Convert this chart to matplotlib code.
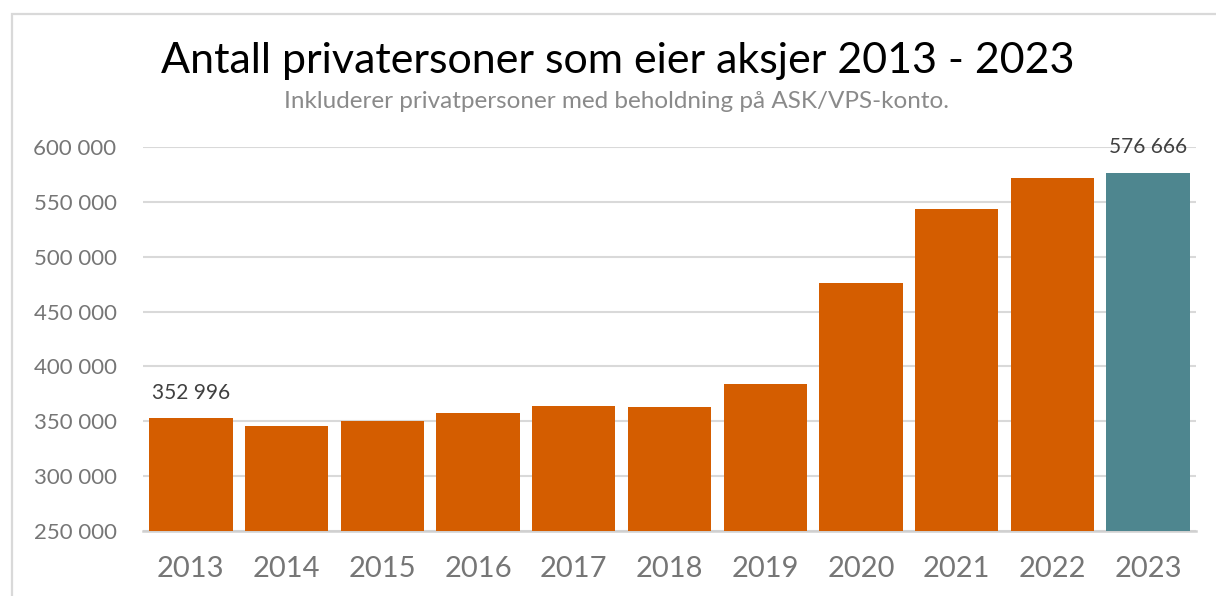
import matplotlib.pyplot as plt
from matplotlib.patches import Rectangle
from matplotlib.ticker import FuncFormatter

plt.rcParams["font.family"] = ["Lato", "DejaVu Sans"]

years = ["2013", "2014", "2015", "2016", "2017", "2018",
         "2019", "2020", "2021", "2022", "2023"]
holders = [352996, 345900, 350500, 357300, 364300, 363000,
           384000, 476300, 543800, 572000, 576666]
labelled = ["2013", "2023"]

title = "Antall privatersoner som eier aksjer 2013 - 2023"
subtitle = "Inkluderer privatpersoner med beholdning på ASK/VPS-konto."

orange = "#d45d00"
teal = "#4e868f"
grid_col = "#d9d9d9"


def fmt_num(v, pos=None):
    return f"{int(round(v)):,}".replace(",", " ")


fig = plt.figure(figsize=(12.16, 5.96), dpi=100, facecolor="white")

# light frame around the chart, cropped at right and bottom
fig.patches.append(Rectangle((12 / 1216, -0.05), 1.2, 1 - 14 / 596 + 0.05,
                             transform=fig.transFigure, fill=False,
                             edgecolor="#d9d9d9", linewidth=1.6, zorder=0))

ax = fig.add_axes([143 / 1216, 1 - 531 / 596, (1196 - 143) / 1216, (531 - 147) / 596])

x = list(range(len(years)))
colors = [teal if y == "2023" else orange for y in years]
bars = ax.bar(x, [h - 250000 for h in holders], bottom=250000, width=0.87,
              color=colors, zorder=3)

for i, (y, h) in enumerate(zip(years, holders)):
    if y in labelled:
        ax.annotate(fmt_num(h), (i, h), xytext=(0, 11), textcoords="offset points",
                    ha="center", va="bottom", fontsize=15, color="#404040")

ax.set_xlim(-0.5, len(years) - 0.5)
ax.set_ylim(250000, 600000)
ax.set_yticks(range(250000, 600001, 50000))
ax.yaxis.set_major_formatter(FuncFormatter(fmt_num))
ax.set_xticks(x)
ax.set_xticklabels(years)

ax.grid(axis="y", color=grid_col, linewidth=1.5, zorder=0)
ax.tick_params(axis="y", length=0, pad=19, labelsize=16, labelcolor="#767676")
ax.tick_params(axis="x", length=0, pad=18, labelsize=21, labelcolor="#767676")
for s in ["top", "right", "left"]:
    ax.spines[s].set_visible(False)
ax.spines["bottom"].set_color("#d0d0d0")
ax.spines["bottom"].set_linewidth(1.8)

fig.text(618 / 1216, 1 - 61 / 596, title, ha="center", va="center",
         fontsize=31, color="black")
fig.text(617 / 1216, 1 - 102 / 596, subtitle, ha="center", va="center",
         fontsize=17.5, color="#8a8a8a")

fig.savefig("out.png", dpi=100, facecolor="white")
